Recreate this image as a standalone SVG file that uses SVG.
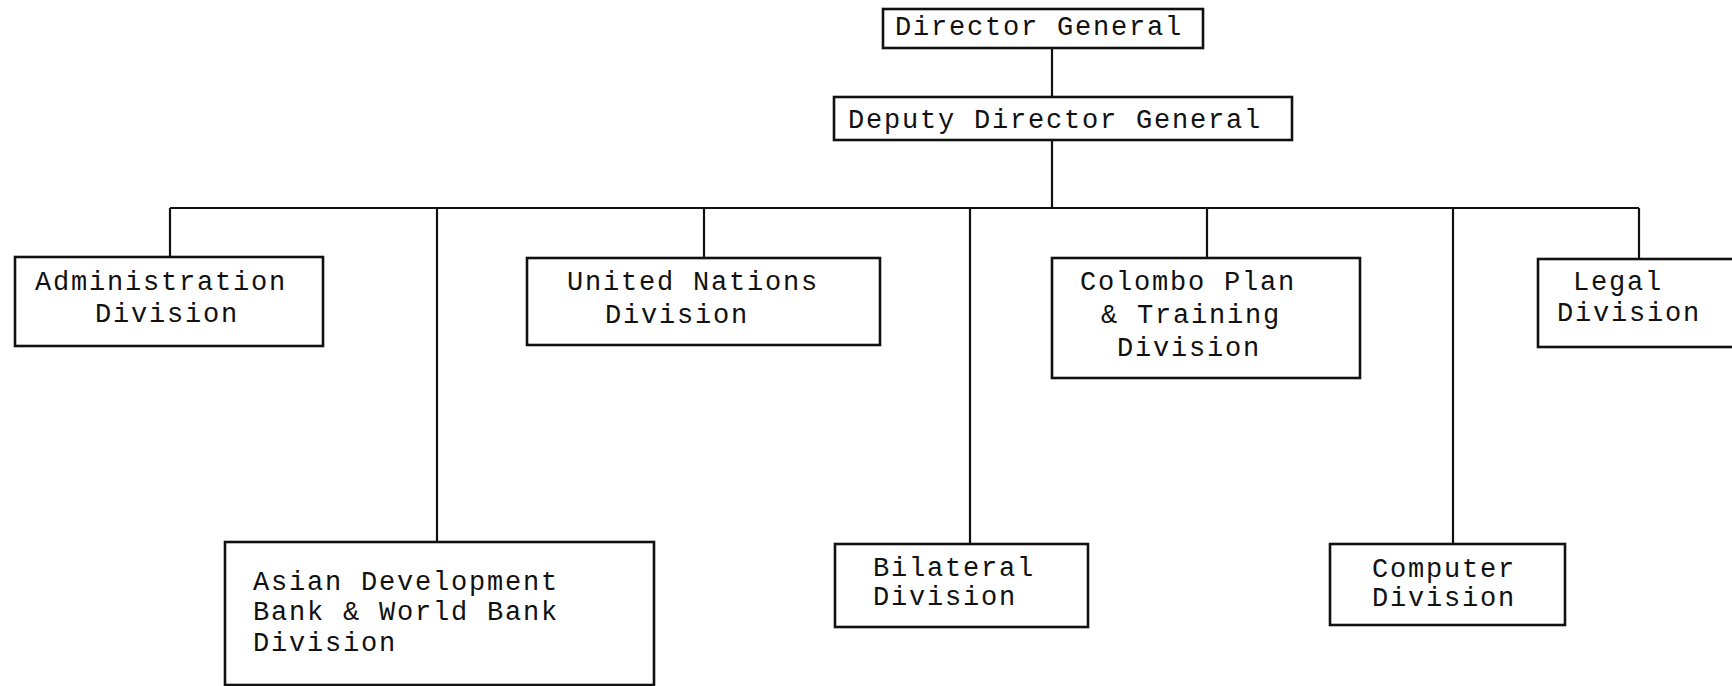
<svg xmlns="http://www.w3.org/2000/svg" width="1732" height="686" viewBox="0 0 1732 686">
<style>
.box{fill:#fff;stroke:#111;stroke-width:2.6}
.ln{stroke:#111;stroke-width:2.2;fill:none}
text{font-family:"Liberation Mono","Courier New",monospace;font-size:27px;letter-spacing:1.8px;fill:#111}
</style>
<rect width="1732" height="686" fill="#fff"/>
<g id="connectors">
<path class="ln" d="M1052 48V97"/>
<path class="ln" d="M1052 140V208"/>
<path class="ln" d="M170 208H1639"/>
<path class="ln" d="M170 208V257"/>
<path class="ln" d="M437 208V542"/>
<path class="ln" d="M704 208V258"/>
<path class="ln" d="M970 208V544"/>
<path class="ln" d="M1207 208V258"/>
<path class="ln" d="M1453 208V544"/>
<path class="ln" d="M1639 208V259"/>
</g>
<g id="director-general">
<rect class="box" x="883" y="9" width="320" height="39"/>
<text x="895" y="35">Director General</text>
</g>
<g id="deputy-director-general">
<rect class="box" x="834" y="97" width="458" height="43"/>
<text x="848" y="128">Deputy Director General</text>
</g>
<g id="administration-division">
<rect class="box" x="15" y="257" width="308" height="89"/>
<text x="35" y="290">Administration</text>
<text x="95" y="322">Division</text>
</g>
<g id="adb-wb-division">
<rect class="box" x="225" y="542" width="429" height="143"/>
<text x="253" y="590">Asian Development</text>
<text x="253" y="620">Bank &amp; World Bank</text>
<text x="253" y="651">Division</text>
</g>
<g id="un-division">
<rect class="box" x="527" y="258" width="353" height="87"/>
<text x="567" y="290">United Nations</text>
<text x="605" y="323">Division</text>
</g>
<g id="bilateral-division">
<rect class="box" x="835" y="544" width="253" height="83"/>
<text x="873" y="576">Bilateral</text>
<text x="873" y="605">Division</text>
</g>
<g id="colombo-plan-division">
<rect class="box" x="1052" y="258" width="308" height="120"/>
<text x="1080" y="290">Colombo Plan</text>
<text x="1101" y="323">&amp; Training</text>
<text x="1117" y="356">Division</text>
</g>
<g id="computer-division">
<rect class="box" x="1330" y="544" width="235" height="81"/>
<text x="1372" y="577">Computer</text>
<text x="1372" y="606">Division</text>
</g>
<g id="legal-division">
<rect class="box" x="1538" y="259" width="204" height="88"/>
<text x="1573" y="290">Legal</text>
<text x="1557" y="321">Division</text>
</g>
</svg>
